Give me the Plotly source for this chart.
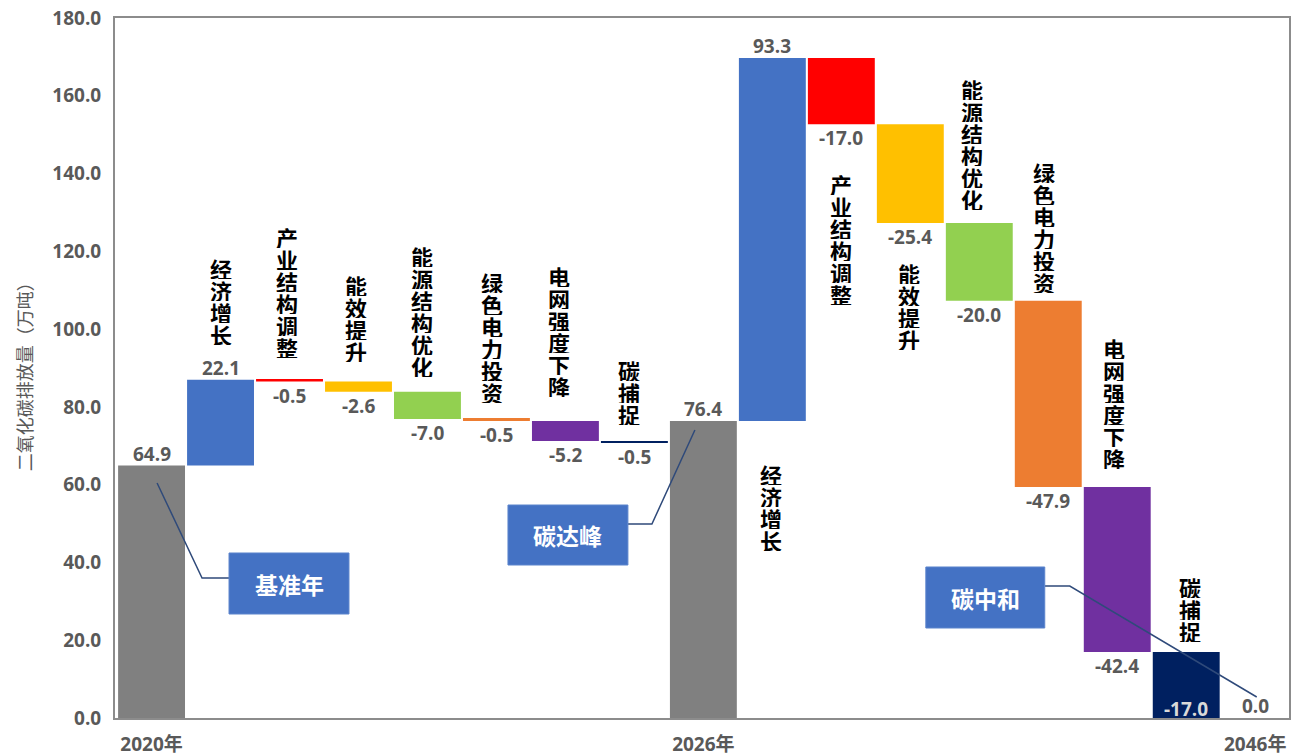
import plotly.graph_objects as go

# ---------------- data ----------------
categories = ['2020年', '经济增长', '产业结构调整', '能效提升', '能源结构优化', '绿色电力投资',
              '电网强度下降', '碳捕捉', '2026年', '经济增长', '产业结构调整', '能效提升',
              '能源结构优化', '绿色电力投资', '电网强度下降', '碳捕捉', '2046年']
values = [64.9, 22.1, -0.5, -2.6, -7.0, -0.5, -5.2, -0.5, 76.4,
          93.3, -17.0, -25.4, -20.0, -47.9, -42.4, -17.0, 0.0]
measures = ['total', 'relative', 'relative', 'relative', 'relative', 'relative', 'relative', 'relative',
            'total', 'relative', 'relative', 'relative', 'relative', 'relative', 'relative', 'relative', 'total']
tick_positions = [0, 8, 16]
tick_labels = ['2020年', '2026年', '2046年']
callout_texts = ['基准年', '碳达峰', '碳中和']
y_title = '二氧化碳排放量（万吨）'

# ---------------- styles ----------------
factor_colors = {
    '经济增长': '#4472C4', '产业结构调整': '#FF0000', '能效提升': '#FFC000',
    '能源结构优化': '#92D050', '绿色电力投资': '#ED7D31', '电网强度下降': '#7030A0',
    '碳捕捉': '#002060',
}
total_color = '#808080'
label_gray = '#595959'
FONT = 'Open Sans, Noto Sans CJK SC, sans-serif'
CJK = 'Noto Sans CJK SC, sans-serif'

# name label placement (side relative to bar, gap in px, x offset in px)
name_side = [None, 'up', 'up', 'up', 'up', 'up', 'up', 'up', None,
             'down', 'down', 'down', 'up', 'up', 'up', 'up', None]
name_gap = [0, 35, 22, 20, 15, 16, 24, 16, 0, 42, 49, 39, 13, 8, 18, 10, 0]
name_dx = [0, 0, -3, -2, -5, -4, -6, -5, 0, -1, 0, -1, -7, -4, -3, 4, 0]
CHAR_SP = 22

# ---------------- waterfall geometry ----------------
bases = []
running = 0.0
for v, m in zip(values, measures):
    if m == 'total':
        bases.append(0.0)
        running = v
    else:
        bases.append(running)
        running += v

xs = list(range(len(categories)))
colors = [total_color if m == 'total' else factor_colors[c] for c, m in zip(categories, measures)]

fig = go.Figure()
fig.add_trace(go.Bar(
    x=xs, y=values, base=bases, width=0.97,
    marker=dict(color=colors, line=dict(width=0)),
    hoverinfo='skip', showlegend=False,
))

annotations = []
# value labels
for i, (v, b) in enumerate(zip(values, bases)):
    top = max(b, b + v)
    bot = min(b, b + v)
    txt = f'{v:.1f}'
    if v >= 0:
        y, shift, col = top, 12, label_gray
    elif bot <= 0:
        y, shift, col = 0, 9, '#d9d9d9'
    else:
        y, shift, col = bot, -14, label_gray
    annotations.append(dict(x=i, y=y, xref='x', yref='y', text=f'<b>{txt}</b>', showarrow=False,
                            yanchor='middle', xanchor='center', yshift=shift,
                            font=dict(family=FONT, size=19, color=col)))

# vertical category names (one character per line)
for i, c in enumerate(categories):
    side = name_side[i]
    if side is None:
        continue
    v, b = values[i], bases[i]
    chars = list(c)
    n = len(chars)
    for k, ch in enumerate(chars):
        if side == 'up':
            y = max(b, b + v)
            shift = name_gap[i] + (n - 1 - k) * CHAR_SP + CHAR_SP / 2
        else:
            y = min(b, b + v)
            shift = -(name_gap[i] + k * CHAR_SP + CHAR_SP / 2)
        annotations.append(dict(x=i, y=y, xref='x', yref='y', text=f'<b>{ch}</b>', showarrow=False,
                                yanchor='middle', xanchor='center', yshift=shift, xshift=name_dx[i],
                                height=22, borderpad=0,
                                font=dict(family=CJK, size=22, color='#000000')))

# callout boxes (in axis coordinates)
boxes = [
    dict(x0=1.123, x1=2.862, y0=26.74, y1=42.43, tx=1.993, ty=34.58,
         path='M 0.080 60.43 L 0.732 36.0 L 1.123 36.0'),
    dict(x0=5.167, x1=6.906, y0=39.34, y1=54.77, tx=6.036, ty=47.05,
         path='M 6.906 49.88 L 7.254 49.88 L 7.877 74.06'),
    dict(x0=11.225, x1=12.949, y0=23.14, y1=38.83, tx=12.087, ty=30.98,
         path='M 12.949 33.94 L 13.312 33.94 L 16.022 5.40'),
]
shapes = []
for bx, t in zip(boxes, callout_texts):
    shapes.append(dict(type='path', xref='x', yref='y', path=bx['path'],
                       line=dict(color='#2F4A7A', width=1.5)))
    shapes.append(dict(type='rect', xref='x', yref='y', x0=bx['x0'], x1=bx['x1'], y0=bx['y0'], y1=bx['y1'],
                       fillcolor='#4472C4', line=dict(color='#5B84CC', width=1), layer='above'))
    annotations.append(dict(x=bx['tx'], y=bx['ty'], xref='x', yref='y', text=f'<b>{t}</b>', showarrow=False,
                            font=dict(family=CJK, size=23, color='#FFFFFF')))

# y axis title
annotations.append(dict(x=0, y=0.494, xref='paper', yref='paper', text=y_title, showarrow=False,
                        textangle=-90, xanchor='center', yanchor='middle', xshift=-91,
                        font=dict(family=CJK, size=18, color=label_gray)))

fig.update_layout(
    width=1291, height=754,
    margin=dict(l=115, r=2, t=18, b=36),
    paper_bgcolor='white', plot_bgcolor='white',
    bargap=0.03,
    annotations=annotations,
    shapes=shapes,
    xaxis=dict(range=[-0.53, 16.49], tickvals=tick_positions, ticktext=tick_labels,
               showgrid=False, zeroline=False, showline=True, mirror=True,
               linecolor='#8C8C8C', linewidth=2, ticks='', automargin=False,
               tickfont=dict(family=FONT, size=19, color=label_gray, weight='bold'),
               ticklabelstandoff=8),
    yaxis=dict(range=[0, 180], dtick=20, tickformat='.1f',
               showgrid=False, zeroline=False, showline=True, mirror=True,
               linecolor='#8C8C8C', linewidth=2, ticks='', automargin=False,
               tickfont=dict(family=FONT, size=19, color=label_gray, weight='bold'),
               ticklabelstandoff=8),
)

fig.write_html('out.html', config={'displayModeBar': False},
               post_script="document.body.style.margin='0';document.body.style.overflow='hidden';")
